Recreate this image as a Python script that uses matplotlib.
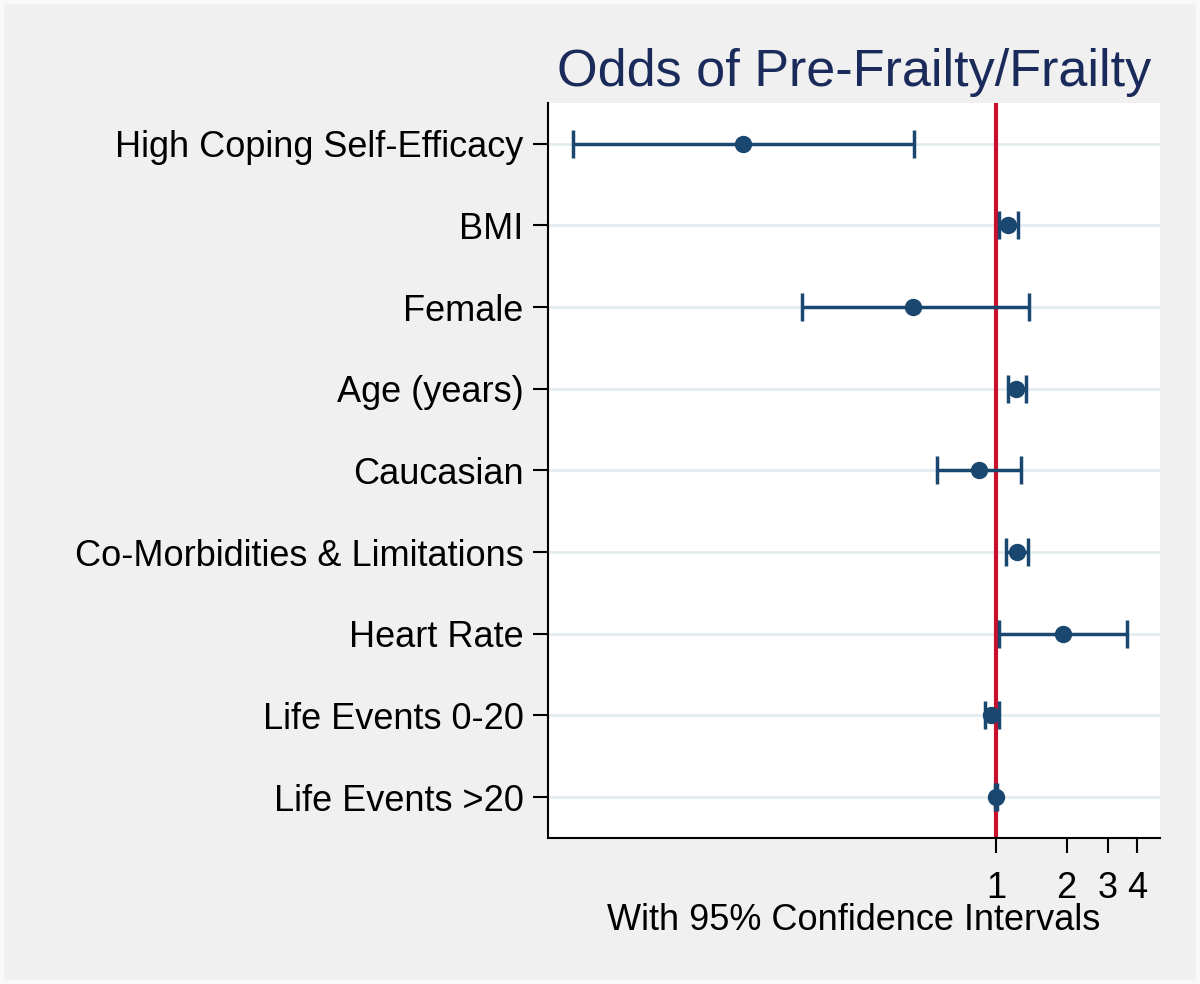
import numpy as np
import matplotlib
matplotlib.use("Agg")
import matplotlib.pyplot as plt
from matplotlib.patches import Rectangle

plt.rcParams['font.family'] = ['Liberation Sans', 'DejaVu Sans']

# coefficients (odds ratios) with 95% CI, top to bottom
labels = ["High Coping Self-Efficacy", "BMI", "Female", "Age (years)", "Caucasian",
          "Co-Morbidities & Limitations", "Heart Rate", "Life Events 0-20", "Life Events >20"]
odds = [0.084, 1.125, 0.443, 1.22, 0.846, 1.23, 1.93, 0.95, 1.00]
ci_lo = [0.0158, 1.03, 0.149, 1.125, 0.561, 1.10, 1.03, 0.90, 0.99]
ci_hi = [0.449, 1.24, 1.38, 1.34, 1.28, 1.37, 3.61, 1.03, 1.01]
xticks = [1, 2, 3, 4]

navy = "#1a476f"
grey_bg = "#f0f0f0"

fig = plt.figure(figsize=(12, 9.84), dpi=100, facecolor=grey_bg)
fig.patches.append(Rectangle((0, 0), 1, 1, transform=fig.transFigure, fill=False,
                             edgecolor="#f9f9f9", lw=6))
ax = fig.add_axes([0.4567, 0.1484, 0.51, 0.747])
ax.set_facecolor("white")

n = len(labels)
y = np.arange(n, 0, -1)
odds_a = np.array(odds)
err = [odds_a - np.array(ci_lo), np.array(ci_hi) - odds_a]

for yy in y:
    ax.axhline(yy, color="#e3edf0", lw=2, zorder=1)
ax.axvline(1, color="#c8102e", lw=3, zorder=2)
ax.errorbar(odds, y, xerr=err, fmt="o", color=navy, ms=11.5, lw=2.5,
            capsize=10, capthick=2.5, zorder=3)

ax.set_xscale("log")
ax.set_xlim(np.exp(-4.39), 5.0)
ax.set_ylim(0.5, n + 0.5)
ax.set_xticks(xticks)
ax.set_xticklabels([str(t) for t in xticks])
ax.xaxis.set_minor_locator(matplotlib.ticker.NullLocator())
ax.set_yticks(y)
ax.set_yticklabels(labels)

ax.tick_params(axis="x", length=11, width=1.5, pad=13, labelsize=26)
ax.tick_params(axis="y", length=11, width=1.5, pad=6.5, labelsize=26)
for s in ["top", "right"]:
    ax.spines[s].set_visible(False)
for s in ["left", "bottom"]:
    ax.spines[s].set_linewidth(1.5)

fig.text(0.7117, 1 - 86 / 984, "Odds of Pre-Frailty/Frailty", ha="center", va="baseline",
         fontsize=37.5, color="#1a2a5a")
fig.text(0.7117, 1 - 930 / 984, "With 95% Confidence Intervals", ha="center", va="baseline",
         fontsize=26)

fig.savefig("out.png", dpi=100, facecolor=grey_bg)
